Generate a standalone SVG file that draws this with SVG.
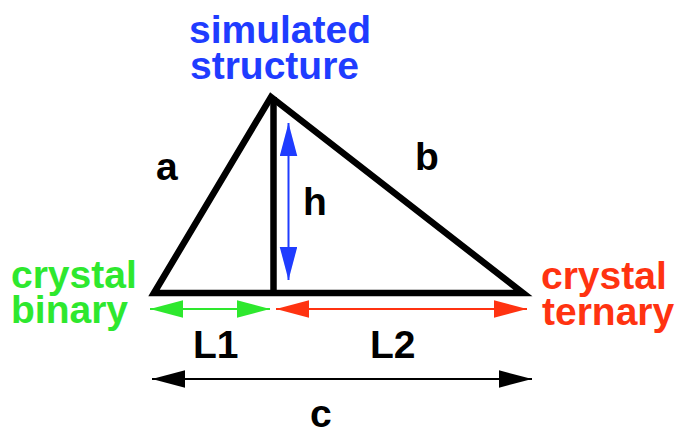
<svg xmlns="http://www.w3.org/2000/svg" width="677" height="427" viewBox="0 0 677 427">
<style>
text{font-family:"Liberation Sans",Arial,sans-serif;font-weight:bold;font-size:39px}
.k{fill:#000}
.bl{fill:#1f3cff}
.gr{fill:#2ee82e}
.rd{fill:#ff3311}
.tri{fill:none;stroke:#000;stroke-width:6.5;stroke-linejoin:miter}
.ar{fill:none;stroke-width:2}
</style>
<defs>
<marker id="mb" markerUnits="userSpaceOnUse" markerWidth="34" markerHeight="18" refX="33" refY="8.75" orient="auto-start-reverse"><path d="M0,0 L33,8.75 L0,17.5 z" fill="#1f3cff"/></marker>
<marker id="mg" markerUnits="userSpaceOnUse" markerWidth="34" markerHeight="18" refX="33" refY="8.75" orient="auto-start-reverse"><path d="M0,0 L33,8.75 L0,17.5 z" fill="#2ee82e"/></marker>
<marker id="mr" markerUnits="userSpaceOnUse" markerWidth="34" markerHeight="18" refX="33" refY="8.75" orient="auto-start-reverse"><path d="M0,0 L33,8.75 L0,17.5 z" fill="#ff3311"/></marker>
<marker id="mk" markerUnits="userSpaceOnUse" markerWidth="34" markerHeight="18" refX="33" refY="8.75" orient="auto-start-reverse"><path d="M0,0 L33,8.75 L0,17.5 z" fill="#000"/></marker>
</defs>
<g id="triangle">
<polygon class="tri" points="154,293 271,97 523,293"/>
<line x1="273.5" y1="97" x2="273.5" y2="293" stroke="#000" stroke-width="6.5"/>
</g>
<g id="connectors">
<line class="ar" stroke="#1f3cff" x1="288.5" y1="123" x2="288.5" y2="280" marker-start="url(#mb)" marker-end="url(#mb)"/>
<line class="ar" stroke="#2ee82e" x1="150" y1="309" x2="270" y2="309" marker-start="url(#mg)" marker-end="url(#mg)"/>
<line class="ar" stroke="#ff3311" x1="276" y1="309" x2="527" y2="309" marker-start="url(#mr)" marker-end="url(#mr)"/>
<line class="ar" stroke="#000" x1="152" y1="379" x2="532" y2="379" marker-start="url(#mk)" marker-end="url(#mk)"/>
</g>
<g id="simulated">
<text class="bl" x="189" y="43">simulated</text>
<text class="bl" x="190" y="79">structure</text>
</g>
<g id="binary">
<text class="gr" x="11" y="288">crystal</text>
<text class="gr" x="11" y="323">binary</text>
</g>
<g id="ternary">
<text class="rd" x="541" y="289">crystal</text>
<text class="rd" x="542" y="325">ternary</text>
</g>
<g id="labels">
<text class="k" x="156" y="180">a</text>
<text class="k" x="415" y="170">b</text>
<text class="k" x="303" y="215">h</text>
<text class="k" x="193" y="358">L1</text>
<text class="k" x="370" y="358">L2</text>
<text class="k" x="310" y="427">c</text>
</g>
</svg>
